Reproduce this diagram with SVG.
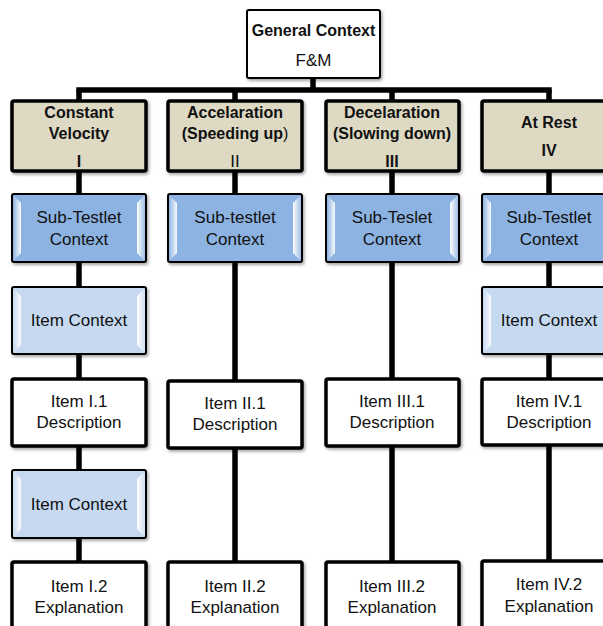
<svg xmlns="http://www.w3.org/2000/svg" width="603" height="626" viewBox="0 0 603 626">
  <defs>
    <filter id="shadow" x="-10%" y="-10%" width="125%" height="130%">
      <feDropShadow dx="1.5" dy="2" stdDeviation="1.5" flood-color="#000" flood-opacity="0.35"/>
    </filter>
    <linearGradient id="bevelL" x1="0" y1="0" x2="1" y2="0">
      <stop offset="0" stop-color="#ffffff" stop-opacity="0"/>
      <stop offset="1" stop-color="#ffffff" stop-opacity="0.95"/>
    </linearGradient>
    <linearGradient id="bevelR" x1="1" y1="0" x2="0" y2="0">
      <stop offset="0" stop-color="#ffffff" stop-opacity="0.15"/>
      <stop offset="1" stop-color="#ffffff" stop-opacity="1"/>
    </linearGradient>
  </defs>
  <style>
    text { font-family: "Liberation Sans", Arial, sans-serif; fill: #111; text-anchor: middle; dominant-baseline: central; }
    .b { font-weight: bold; font-size: 16px; }
    .r { font-size: 17px; }
    .n { font-weight: normal; }
    .top { fill: #ffffff; stroke: #000; stroke-width: 2; filter: url(#shadow); }
    .tan { fill: #ddd9c3; stroke: #000; stroke-width: 3.5; filter: url(#shadow); }
    .sub { fill: #8db3e2; stroke: #000; stroke-width: 2; filter: url(#shadow); }
    .ic { fill: #c6d9f1; stroke: #000; stroke-width: 2; filter: url(#shadow); }
    .item { fill: #ffffff; stroke: #000; stroke-width: 3.5; filter: url(#shadow); }
    .bl { fill: url(#bevelL); }
    .br { fill: url(#bevelR); }
    .conn { stroke: #000; stroke-width: 5.5; fill: none; }
  </style>

  <!-- connectors -->
  <g id="connectors">
    <line class="conn" x1="313" y1="78" x2="313" y2="90"/>
    <line class="conn" x1="79" y1="90" x2="549" y2="90" stroke-linecap="square"/>
    <line class="conn" x1="79" y1="90" x2="79" y2="564"/>
    <line class="conn" x1="235" y1="90" x2="235" y2="564"/>
    <line class="conn" x1="392" y1="90" x2="392" y2="564"/>
    <line class="conn" x1="549" y1="90" x2="549" y2="564"/>
  </g>

  <!-- root -->
  <g id="general-context">
    <rect class="top" x="247" y="10" width="133" height="68" rx="2"/>
    <text class="b" x="313.5" y="30">General Context</text>
    <text class="r" x="313.5" y="60">F&amp;M</text>
  </g>

  <!-- category row -->
  <g id="cat-constant">
    <rect class="tan" x="12" y="101" width="134" height="70" rx="2"/>
    <text class="b" x="79" y="112">Constant</text>
    <text class="b" x="79" y="133">Velocity</text>
    <text class="b" x="79" y="161">I</text>
  </g>
  <g id="cat-accel">
    <rect class="tan" x="168" y="101" width="134" height="70" rx="2"/>
    <text class="b" x="235" y="112">Accelaration</text>
    <text class="b" x="235" y="133">(Speeding up<tspan class="n">)</tspan></text>
    <text class="r" x="235" y="161">II</text>
  </g>
  <g id="cat-decel">
    <rect class="tan" x="326" y="101" width="133" height="70" rx="2"/>
    <text class="b" x="392" y="112">Decelaration</text>
    <text class="b" x="392" y="133">(Slowing down)</text>
    <text class="b" x="392" y="161">III</text>
  </g>
  <g id="cat-rest">
    <rect class="tan" x="482" y="101" width="134" height="70" rx="2"/>
    <text class="b" x="549" y="122">At Rest</text>
    <text class="b" x="549" y="150">IV</text>
  </g>

  <!-- sub-testlet row -->
  <g id="sub-1">
    <rect class="sub" x="12" y="194" width="134" height="68" rx="2"/>
    <polygon class="bl" points="13,195 21,203 21,253 13,261"/>
    <polygon class="br" points="145,195 137,203 137,253 145,261"/>
    <text class="r" x="79" y="217">Sub-Testlet</text>
    <text class="r" x="79" y="239">Context</text>
  </g>
  <g id="sub-2">
    <rect class="sub" x="168" y="194" width="134" height="68" rx="2"/>
    <polygon class="bl" points="169,195 177,203 177,253 169,261"/>
    <polygon class="br" points="301,195 293,203 293,253 301,261"/>
    <text class="r" x="235" y="217">Sub-testlet</text>
    <text class="r" x="235" y="239">Context</text>
  </g>
  <g id="sub-3">
    <rect class="sub" x="326" y="194" width="133" height="68" rx="2"/>
    <polygon class="bl" points="327,195 335,203 335,253 327,261"/>
    <polygon class="br" points="458,195 450,203 450,253 458,261"/>
    <text class="r" x="392" y="217">Sub-Teslet</text>
    <text class="r" x="392" y="239">Context</text>
  </g>
  <g id="sub-4">
    <rect class="sub" x="482" y="194" width="134" height="68" rx="2"/>
    <polygon class="bl" points="483,195 491,203 491,253 483,261"/>
    <polygon class="br" points="615,195 607,203 607,253 615,261"/>
    <text class="r" x="549" y="217">Sub-Testlet</text>
    <text class="r" x="549" y="239">Context</text>
  </g>

  <!-- item context boxes -->
  <g id="ic-1a">
    <rect class="ic" x="12" y="287" width="134" height="67" rx="2"/>
    <polygon class="bl" points="13,288 21,296 21,345 13,353"/>
    <polygon class="br" points="145,288 137,296 137,345 145,353"/>
    <text class="r" x="79" y="320">Item Context</text>
  </g>
  <g id="ic-4">
    <rect class="ic" x="482" y="287" width="134" height="67" rx="2"/>
    <polygon class="bl" points="483,288 491,296 491,345 483,353"/>
    <polygon class="br" points="615,288 607,296 607,345 615,353"/>
    <text class="r" x="549" y="320">Item Context</text>
  </g>
  <g id="ic-1b">
    <rect class="ic" x="12" y="470" width="134" height="68" rx="2"/>
    <polygon class="bl" points="13,471 21,479 21,529 13,537"/>
    <polygon class="br" points="145,471 137,479 137,529 145,537"/>
    <text class="r" x="79" y="504">Item Context</text>
  </g>

  <!-- first items -->
  <g id="item-1-1">
    <rect class="item" x="12" y="379" width="134" height="67" rx="2"/>
    <text class="r" x="79" y="401">Item I.1</text>
    <text class="r" x="79" y="422">Description</text>
  </g>
  <g id="item-2-1">
    <rect class="item" x="168" y="381" width="134" height="67" rx="2"/>
    <text class="r" x="235" y="403">Item II.1</text>
    <text class="r" x="235" y="424">Description</text>
  </g>
  <g id="item-3-1">
    <rect class="item" x="326" y="379" width="133" height="67" rx="2"/>
    <text class="r" x="392" y="401">Item III.1</text>
    <text class="r" x="392" y="422">Description</text>
  </g>
  <g id="item-4-1">
    <rect class="item" x="482" y="379" width="134" height="66" rx="2"/>
    <text class="r" x="549" y="401">Item IV.1</text>
    <text class="r" x="549" y="422">Description</text>
  </g>

  <!-- second items -->
  <g id="item-1-2">
    <rect class="item" x="12" y="562" width="134" height="80" rx="2"/>
    <text class="r" x="79" y="586">Item I.2</text>
    <text class="r" x="79" y="607">Explanation</text>
  </g>
  <g id="item-2-2">
    <rect class="item" x="168" y="562" width="134" height="80" rx="2"/>
    <text class="r" x="235" y="586">Item II.2</text>
    <text class="r" x="235" y="607">Explanation</text>
  </g>
  <g id="item-3-2">
    <rect class="item" x="326" y="562" width="133" height="80" rx="2"/>
    <text class="r" x="392" y="586">Item III.2</text>
    <text class="r" x="392" y="607">Explanation</text>
  </g>
  <g id="item-4-2">
    <rect class="item" x="482" y="561" width="134" height="80" rx="2"/>
    <text class="r" x="549" y="584">Item IV.2</text>
    <text class="r" x="549" y="606">Explanation</text>
  </g>
</svg>
